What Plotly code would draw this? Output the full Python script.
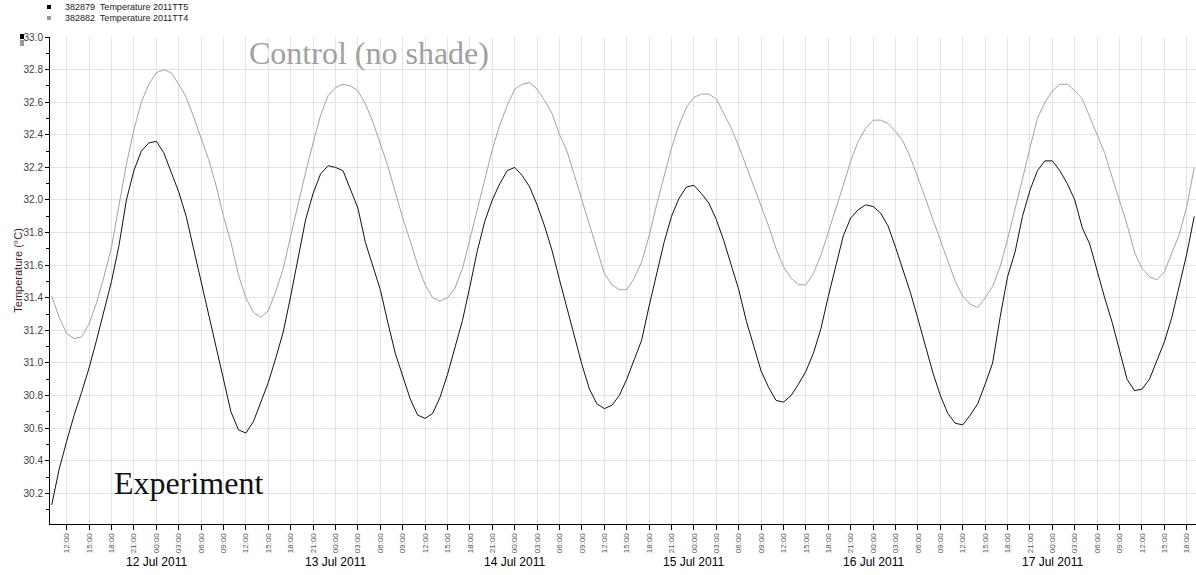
import pandas as pd
import plotly.graph_objects as go

# hourly samples starting 2011-07-11 10:00
start_time = "2011-07-11 10:00"

experiment_tt5 = [
    30.13, 30.35, 30.52, 30.68, 30.82, 30.97, 31.14, 31.32, 31.50, 31.72,
    32.00, 32.18, 32.30, 32.35, 32.36, 32.29, 32.17, 32.05, 31.90, 31.70,
    31.49, 31.30, 31.09, 30.88, 30.70, 30.59, 30.57, 30.64, 30.76, 30.88,
    31.03, 31.19, 31.41, 31.65, 31.88, 32.04, 32.16, 32.21, 32.20, 32.18,
    32.07, 31.95, 31.74, 31.60, 31.45, 31.25, 31.06, 30.92, 30.78, 30.68,
    30.66, 30.69, 30.79, 30.93, 31.09, 31.26, 31.47, 31.69, 31.87, 32.00,
    32.10, 32.18, 32.20, 32.15, 32.08, 31.97, 31.84, 31.69, 31.51, 31.34,
    31.17, 30.99, 30.84, 30.75, 30.72, 30.74, 30.80, 30.90, 31.02, 31.14,
    31.35, 31.55, 31.74, 31.90, 32.01, 32.08, 32.09, 32.04, 31.98, 31.88,
    31.75, 31.60, 31.45, 31.26, 31.10, 30.95, 30.85, 30.77, 30.76, 30.80,
    30.87, 30.95, 31.06, 31.21, 31.41, 31.60, 31.78, 31.89, 31.94, 31.97,
    31.96, 31.92, 31.84, 31.71, 31.57, 31.43, 31.27, 31.10, 30.94, 30.80,
    30.69, 30.63, 30.62, 30.68, 30.75, 30.87, 31.00, 31.28, 31.53, 31.68,
    31.90, 32.06, 32.18, 32.24, 32.24, 32.18, 32.10, 32.00, 31.83, 31.73,
    31.56, 31.40, 31.25, 31.08, 30.90, 30.83, 30.84, 30.90, 31.01, 31.13,
    31.28, 31.47, 31.67, 31.90,
]

control_tt4 = [
    31.41, 31.28, 31.18, 31.15, 31.16, 31.24, 31.37, 31.53, 31.71, 31.97,
    32.22, 32.43, 32.60, 32.71, 32.78, 32.80, 32.78, 32.71, 32.63, 32.51,
    32.38, 32.25, 32.09, 31.90, 31.74, 31.54, 31.40, 31.31, 31.28, 31.32,
    31.44, 31.58, 31.78, 31.98, 32.17, 32.35, 32.52, 32.64, 32.69, 32.71,
    32.70, 32.67, 32.59, 32.48, 32.35, 32.21, 32.05, 31.89, 31.75, 31.60,
    31.48, 31.40, 31.38, 31.40, 31.46, 31.58, 31.76, 31.94, 32.13, 32.31,
    32.46, 32.58, 32.68, 32.71, 32.72, 32.68, 32.61, 32.53, 32.40, 32.30,
    32.15, 32.00, 31.85, 31.70, 31.55, 31.48, 31.45, 31.45, 31.52, 31.62,
    31.78, 31.97, 32.15, 32.32, 32.46, 32.57, 32.63, 32.65, 32.65, 32.62,
    32.53, 32.44, 32.33, 32.21, 32.09, 31.96, 31.84, 31.70, 31.59, 31.52,
    31.48, 31.48, 31.55, 31.66, 31.80, 31.94, 32.09, 32.24, 32.36, 32.44,
    32.49, 32.49, 32.47, 32.42, 32.36, 32.26, 32.14, 32.01, 31.88, 31.75,
    31.63, 31.50, 31.41, 31.36, 31.34, 31.40, 31.47, 31.59, 31.76, 31.94,
    32.13, 32.32, 32.50, 32.60, 32.67, 32.71, 32.71, 32.67, 32.62, 32.51,
    32.40, 32.29, 32.14, 31.99, 31.85, 31.68, 31.58, 31.53, 31.51, 31.56,
    31.67, 31.79, 31.96, 32.20,
]

series_names = ["382879  Temperature 2011TT5", "382882  Temperature 2011TT4"]
day_labels = ["12 Jul 2011", "13 Jul 2011", "14 Jul 2011",
              "15 Jul 2011", "16 Jul 2011", "17 Jul 2011"]
day_midnights = ["2011-07-12", "2011-07-13", "2011-07-14",
                 "2011-07-15", "2011-07-16", "2011-07-17"]
y_tick_values = [30.2, 30.4, 30.6, 30.8, 31.0, 31.2, 31.4, 31.6, 31.8,
                 32.0, 32.2, 32.4, 32.6, 32.8, 33.0]

times = pd.date_range(start_time, periods=len(experiment_tt5), freq="h")

fig = go.Figure()
fig.add_trace(go.Scatter(x=times, y=control_tt4, mode="lines",
                         name=series_names[1],
                         line=dict(color="#a3a3a3", width=1)))
fig.add_trace(go.Scatter(x=times, y=experiment_tt5, mode="lines",
                         name=series_names[0],
                         line=dict(color="#111111", width=1)))

grid = "#e3e3e3"
fig.update_xaxes(
    range=["2011-07-11 09:46", "2011-07-17 19:14"],
    tick0="2011-07-11 00:00", dtick=3 * 3600 * 1000,
    tickformat="%H:%M", tickangle=-90,
    tickfont=dict(family="Liberation Sans, Arial", size=8, color="#555555"),
    ticks="outside", ticklen=5, tickcolor="#000000",
    showline=True, linecolor="#000000", linewidth=1,
    showgrid=True, gridcolor=grid, gridwidth=1,
    zeroline=False,
)
fig.update_yaxes(
    range=[30.012, 33.0],
    tickvals=y_tick_values, tickformat=".1f",
    tickfont=dict(family="Liberation Sans, Arial", size=10, color="#3c3c48"),
    ticks="outside", ticklen=4, tickcolor="#000000",
    minor=dict(dtick=0.1, tick0=30.0, ticks="outside", ticklen=3,
               tickcolor="#000000", showgrid=False),
    showline=True, linecolor="#000000", linewidth=1,
    showgrid=True, gridcolor=grid, gridwidth=1,
    zeroline=False,
)

annotations = []
for d, lbl in zip(day_midnights, day_labels):
    annotations.append(dict(x=d, y=-0.078, xref="x", yref="paper",
                            text=lbl, showarrow=False, xanchor="center",
                            yanchor="middle",
                            font=dict(family="Liberation Sans, Arial",
                                      size=12, color="#000000")))
annotations += [
    dict(x=-0.028, y=0.52, xref="paper", yref="paper",
         text="Temperature (°C)", textangle=-90, showarrow=False,
         xanchor="center", yanchor="middle",
         font=dict(family="Liberation Sans, Arial", size=11, color="#4a1818")),
    dict(x=0.1715, y=0.967, xref="paper", yref="paper",
         text="Control (no shade)", showarrow=False,
         xanchor="left", yanchor="middle",
         font=dict(family="Liberation Serif, Times New Roman", size=32,
                   color="#a0a0a0")),
    dict(x=0.054, y=0.084, xref="paper", yref="paper",
         text="Experiment", showarrow=False,
         xanchor="left", yanchor="middle",
         font=dict(family="Liberation Serif, Times New Roman", size=32,
                   color="#111111")),
    dict(x=13 / 1146, y=(524 - 7) / 487, xref="paper", yref="paper",
         text=series_names[0], showarrow=False, xanchor="left",
         yanchor="middle",
         font=dict(family="Liberation Sans, Arial", size=9, color="#222222")),
    dict(x=13 / 1146, y=(524 - 18) / 487, xref="paper", yref="paper",
         text=series_names[1], showarrow=False, xanchor="left",
         yanchor="middle",
         font=dict(family="Liberation Sans, Arial", size=9, color="#222222")),
]

shapes = [
    # legend swatches
    dict(type="rect", xref="paper", yref="paper",
         x0=-3 / 1146, x1=1 / 1146, y0=(524 - 9) / 487, y1=(524 - 5) / 487,
         fillcolor="#000000", line=dict(width=0)),
    dict(type="rect", xref="paper", yref="paper",
         x0=-3 / 1146, x1=1 / 1146, y0=(524 - 20) / 487, y1=(524 - 16) / 487,
         fillcolor="#999999", line=dict(width=0)),
    # swatches near top of y axis
    dict(type="rect", xref="paper", yref="paper",
         x0=-30 / 1146, x1=-26 / 1146, y0=(524 - 39) / 487, y1=(524 - 34) / 487,
         fillcolor="#000000", line=dict(width=0)),
    dict(type="rect", xref="paper", yref="paper",
         x0=-30 / 1146, x1=-26 / 1146, y0=(524 - 46) / 487, y1=(524 - 40) / 487,
         fillcolor="#999999", line=dict(width=0)),
]

fig.update_layout(
    width=1196, height=575,
    margin=dict(l=50, r=0, t=37, b=51),
    paper_bgcolor="#ffffff", plot_bgcolor="#ffffff",
    showlegend=False,
    annotations=annotations,
    shapes=shapes,
)

fig.write_html(
    "out.html",
    config={"displayModeBar": False},
    post_script="document.body.style.margin='0';"
                "document.body.style.overflow='hidden';",
)
